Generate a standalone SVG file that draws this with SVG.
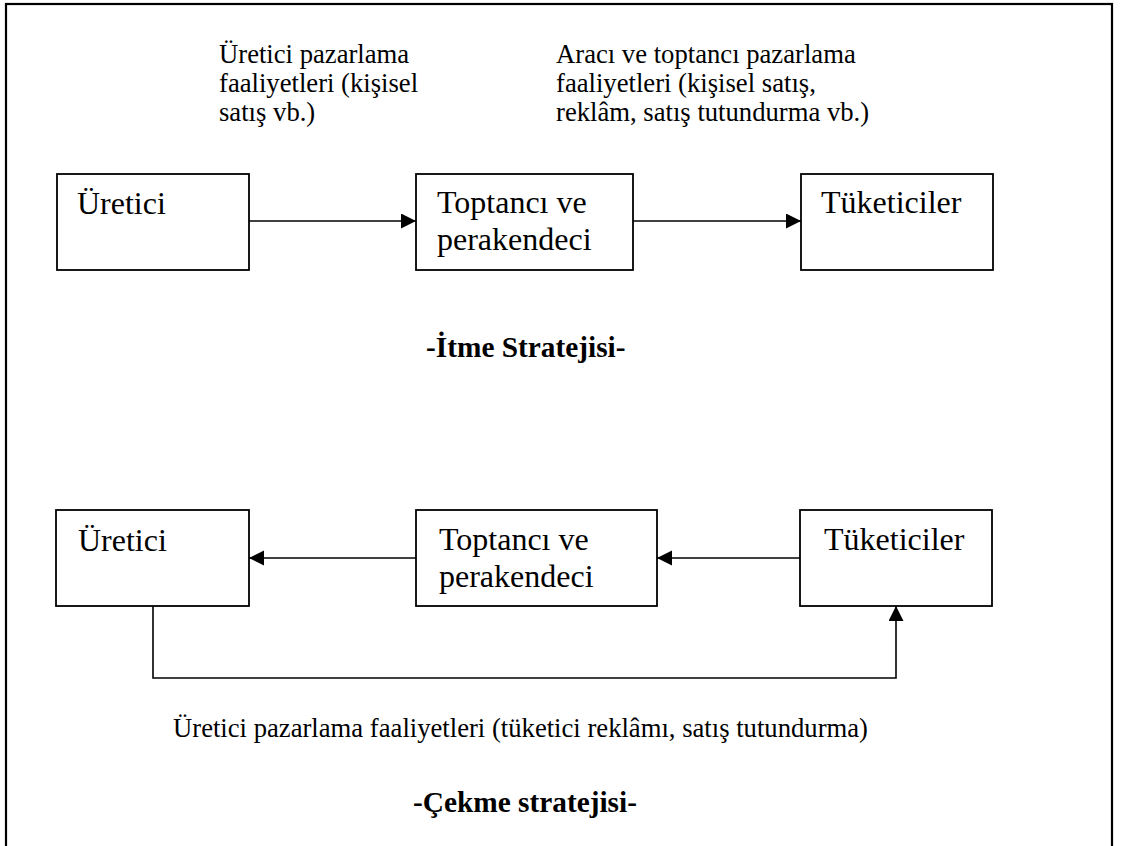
<svg xmlns="http://www.w3.org/2000/svg" width="1121" height="846" viewBox="0 0 1121 846">
  <style>
    .frame { fill: none; stroke: #000; stroke-width: 2.2; }
    .box { fill: #fff; stroke: #000; stroke-width: 1.8; }
    .link { fill: none; stroke: #000; stroke-width: 1.6; }
    .label { font-family: "Liberation Serif", "Times New Roman", serif; font-size: 32px; fill: #000; }
    .note { font-family: "Liberation Serif", "Times New Roman", serif; font-size: 26.67px; fill: #000; }
    .title { font-family: "Liberation Serif", "Times New Roman", serif; font-size: 29.33px; font-weight: bold; fill: #000; }
  </style>
  <defs>
    <marker id="arrow" markerUnits="userSpaceOnUse" markerWidth="16" markerHeight="16" refX="15" refY="7.5" orient="auto">
      <path d="M0,0 L15,7.5 L0,15 Z" fill="#000"/>
    </marker>
  </defs>

  <rect width="1121" height="846" fill="#fff"/>
  <!-- outer frame; its lower edge runs past the page -->
  <rect class="frame" x="6" y="4" width="1106" height="860"/>

  <!-- push strategy -->
  <g id="push-note-producer">
    <text class="note" x="219" y="63">Üretici pazarlama</text>
    <text class="note" x="219" y="92">faaliyetleri (kişisel</text>
    <text class="note" x="219" y="121">satış vb.)</text>
  </g>
  <g id="push-note-intermediary">
    <text class="note" x="556" y="63">Aracı ve toptancı pazarlama</text>
    <text class="note" x="556" y="92">faaliyetleri (kişisel satış,</text>
    <text class="note" x="556" y="121">reklâm, satış tutundurma vb.)</text>
  </g>

  <g id="push-producer">
    <rect class="box" x="57" y="174" width="192" height="96"/>
    <text class="label" x="77" y="214">Üretici</text>
  </g>
  <g id="push-wholesaler">
    <rect class="box" x="416" y="174" width="217" height="96"/>
    <text class="label" x="437" y="213">Toptancı ve</text>
    <text class="label" x="437" y="250">perakendeci</text>
  </g>
  <g id="push-consumers">
    <rect class="box" x="801" y="174" width="192" height="96"/>
    <text class="label" x="821" y="213">Tüketiciler</text>
  </g>

  <g id="push-title">
    <text class="title" x="426" y="357">-İtme Stratejisi-</text>
  </g>

  <!-- pull strategy -->
  <g id="pull-producer">
    <rect class="box" x="56" y="510" width="193" height="96"/>
    <text class="label" x="78" y="551">Üretici</text>
  </g>
  <g id="pull-wholesaler">
    <rect class="box" x="416" y="510" width="241" height="96"/>
    <text class="label" x="439" y="550">Toptancı ve</text>
    <text class="label" x="439" y="587">perakendeci</text>
  </g>
  <g id="pull-consumers">
    <rect class="box" x="800" y="510" width="192" height="96"/>
    <text class="label" x="824" y="550">Tüketiciler</text>
  </g>

  <g id="pull-note">
    <text class="note" x="173" y="737">Üretici pazarlama faaliyetleri (tüketici reklâmı, satış tutundurma)</text>
  </g>
  <g id="pull-title">
    <text class="title" x="413" y="812">-Çekme stratejisi-</text>
  </g>

  <g id="connectors">
    <!-- push: producer to intermediary to consumers -->
    <line class="link" x1="249" y1="221" x2="416" y2="221" marker-end="url(#arrow)"/>
    <line class="link" x1="633" y1="221" x2="801" y2="221" marker-end="url(#arrow)"/>
    <!-- pull: demand travels back from consumers to producer -->
    <line class="link" x1="800" y1="558" x2="657" y2="558" marker-end="url(#arrow)"/>
    <line class="link" x1="416" y1="558" x2="249" y2="558" marker-end="url(#arrow)"/>
    <polyline class="link" points="153,606 153,678 896,678 896,606" marker-end="url(#arrow)"/>
  </g>
</svg>
